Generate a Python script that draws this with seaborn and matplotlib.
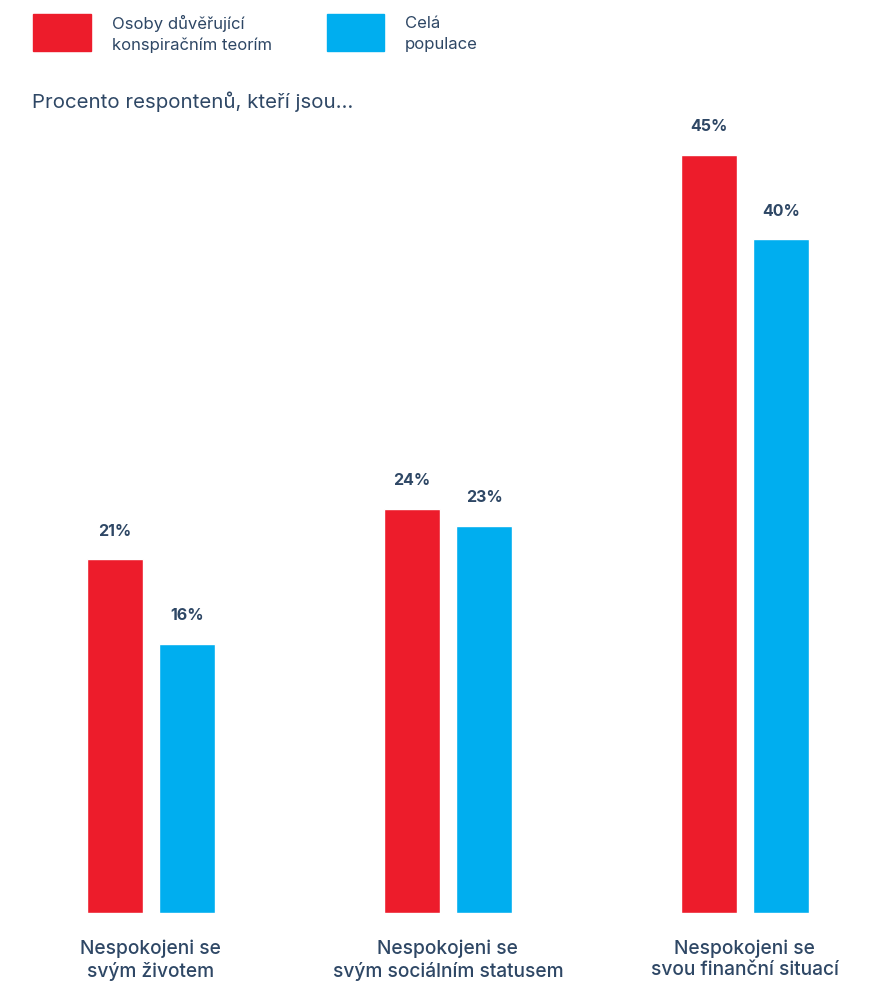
import numpy as np
import pandas as pd
import seaborn as sns
import matplotlib.pyplot as plt
from matplotlib.patches import Rectangle

categories = ["Nespokojeni se\nsvým životem",
              "Nespokojeni se\nsvým sociálním statusem",
              "Nespokojeni se\nsvou finanční situací"]
groups = ["Osoby důvěřující\nkonspiračním teorím", "Celá\npopulace"]
konspirace = [21, 24, 45]
populace = [16, 23, 40]

red = "#ED1C2B"
blue = "#00AEEF"
navy = "#2E4765"

df = pd.DataFrame({
    "kategorie": categories * 2,
    "skupina": [groups[0]] * 3 + [groups[1]] * 3,
    "hodnota": konspirace + populace,
})

sns.set_theme(style="white")
plt.rcParams['font.family'] = ['Inter', 'DejaVu Sans']

fig = plt.figure(figsize=(8.77, 9.83), dpi=100)
ax = fig.add_axes([0, 70 / 983, 1, 813 / 983])

sns.barplot(data=df, x="kategorie", y="hodnota", hue="skupina",
            palette=[red, blue], width=0.488, gap=0.228,
            saturation=1, legend=False, ax=ax)

ax.set_xlim(-0.508, 2.445)
ax.set_ylim(0, 813 / 16.84)
sns.despine(ax=ax, left=True, bottom=True)
ax.set_yticks([])
ax.set_xlabel("")
ax.set_ylabel("")
ax.tick_params(axis="x", length=0, pad=19)
for lbl in ax.get_xticklabels():
    lbl.set_fontsize(13.8)
    lbl.set_color(navy)
    lbl.set_fontweight("medium")
    lbl.set_linespacing(1.25)

for cont in ax.containers:
    ax.bar_label(cont, labels=[f"{int(v)}%" for v in cont.datavalues],
                 padding=15, fontsize=11.5, fontweight="bold", color=navy)

# legend
fig.patches.append(Rectangle((33 / 877, 1 - 51 / 983), 58 / 877, 37 / 983,
                             transform=fig.transFigure, color=red))
fig.patches.append(Rectangle((327 / 877, 1 - 51 / 983), 57 / 877, 37 / 983,
                             transform=fig.transFigure, color=blue))
fig.text(112 / 877, 1 - 34 / 983, groups[0], fontsize=12, color=navy,
         va="center", ha="left", linespacing=1.45)
fig.text(405 / 877, 1 - 34 / 983, groups[1], fontsize=12, color=navy,
         va="center", ha="left", linespacing=1.45)

fig.text(32 / 877, 1 - 102 / 983, "Procento respontenů, kteří jsou…",
         fontsize=14.7, color=navy, va="center", ha="left")

fig.savefig("out.png", dpi=100)
